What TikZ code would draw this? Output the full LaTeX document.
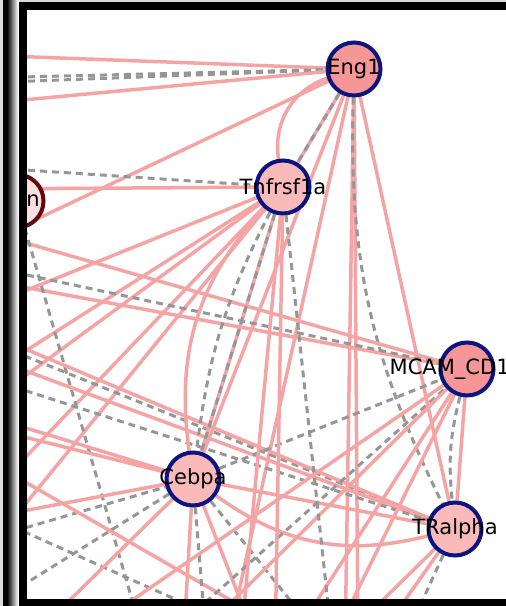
\documentclass[tikz,border=0pt]{standalone}
\usepackage{fontspec}
\setmainfont{DejaVu Sans}
\definecolor{pinkE}{RGB}{244,164,164}
\definecolor{grayD}{RGB}{150,150,150}
\definecolor{navyB}{RGB}{12,20,128}
\definecolor{fillDark}{RGB}{247,150,150}
\definecolor{fillLight}{RGB}{250,186,186}
\definecolor{fillN}{RGB}{251,222,222}
\definecolor{maroonB}{RGB}{100,10,10}
\pgfdeclarelayer{edgelayer}
\pgfsetlayers{edgelayer,main}
\begin{document}
\begin{tikzpicture}[x=1pt,y=-1pt,
  pk/.style={draw=pinkE, line width=3.5pt},
  dsh/.style={draw=grayD, line width=3pt, dash pattern=on 7pt off 5pt},
  gnode/.style={circle, draw=navyB, line width=4pt, minimum size=53pt, inner sep=0pt},
  lbl/.style={font=\fontsize{21}{21}\selectfont, text=black, inner sep=0pt}]
\useasboundingbox (0,0) rectangle (506,606);
% nodes
\begin{scope}
\clip (27,10) rectangle (506,599);
\node[gnode, fill=fillDark, label={[lbl]center:Eng1}] (E) at (354,69) {};
\node[gnode, fill=fillLight, label={[lbl]center:Tnfrsf1a}] (T) at (283,187) {};
\node[circle, draw=maroonB, line width=4pt, minimum size=53pt, inner sep=0pt, fill=fillN] (N) at (17,201) {};
\node[lbl] (Nl) at (33,201) {n};
\node[gnode, fill=fillDark, label={[lbl,xshift=-4pt]center:MCAM\_CD146}] (M) at (467,369) {};
\node[gnode, fill=fillLight, label={[lbl]center:Cebpa}] (C) at (193,479) {};
\node[gnode, fill=fillLight, label={[lbl]center:TRalpha}] (R) at (455,529) {};
\end{scope}
% off-canvas ends
\coordinate (a1) at (-20,55);
\coordinate (a2) at (-20,83);
\coordinate (a3) at (-20,78);
\coordinate (a4) at (-20,104);
\coordinate (a5) at (-20,246);
\coordinate (a9) at (226,650);
\coordinate (b10) at (345,650);
\coordinate (b11) at (358,650);
\coordinate (a14) at (-20,167);
\coordinate (a15) at (-20,189);
\coordinate (a16) at (-20,309);
\coordinate (a17) at (-20,380);
\coordinate (a18) at (-20,409);
\coordinate (a19) at (-20,505);
\coordinate (a20) at (-20,560);
\coordinate (a21) at (-20,230);
\coordinate (a22) at (-20,279);
\coordinate (a23) at (-20,265);
\coordinate (b24) at (135,610);
\coordinate (a25) at (-20,338);
\coordinate (a26) at (-20,330);
\coordinate (a26b) at (-20,354);
\coordinate (a26c) at (-20,376);
\coordinate (a27) at (-20,414);
\coordinate (a28) at (-20,426);
\coordinate (a29) at (-20,519);
\coordinate (a30) at (-20,541);
\coordinate (a31) at (-20,612);
\coordinate (a60) at (-20,456);
\coordinate (b60) at (300,640);
\coordinate (a61) at (-20,512);
\coordinate (b61) at (289,650);
\coordinate (b62) at (19,650);
\coordinate (b32) at (183,650);
\coordinate (b33) at (207,650);
\coordinate (b34) at (260,650);
\coordinate (b35) at (330,650);
\coordinate (b39) at (152,650);
\coordinate (b40) at (183,650);
\coordinate (b41) at (285,650);
\coordinate (b42) at (328,650);
\coordinate (b45) at (332,650);
\coordinate (b45b) at (370,650);
\coordinate (b46) at (400,650);
\coordinate (b51) at (333,650);
\coordinate (b52) at (240,650);
\coordinate (b53) at (275,650);
\coordinate (b54) at (60,650);
\begin{pgfonlayer}{edgelayer}
\begin{scope}
\clip (27,10) rectangle (506,599);
\draw[pk] (a1) -- (E);
\draw[dsh] (a2) -- (E);
\draw[dsh] (a3) -- (E);
\draw[pk] (a4) -- (E);
\draw[pk] (E) -- (a5);
\draw[pk] (E) -- (T);
\draw[pk] (E) to[bend right=40] (T);
\draw[dsh] (E) -- (T);
\draw[pk] (E) -- (a9);
\draw[pk] (E) -- (b10);
\draw[pk] (E) -- (b11);
\draw[dsh] (E) to[bend right=14] (R);
\draw[pk] (E) -- (R);
\draw[pk] (E) -- (C);
\draw[dsh] (a14) -- (T);
\draw[pk] (a15) -- (T);
\draw[pk] (T) -- (a16);
\draw[pk] (T) -- (a17);
\draw[pk] (T) -- (a18);
\draw[pk] (T) -- (a19);
\draw[pk] (T) -- (a20);
\draw[pk] (a21) -- (M);
\draw[pk] (a22) -- (M);
\draw[dsh] (a23) -- (M);
\draw[dsh] (N) -- (b24);
\draw[dsh] (a25) -- (R);
\draw[pk] (a26) -- (R);
\draw[pk] (a26b) -- (R);
\draw[dsh] (a26c) -- (R);
\draw[pk] (a27) -- (C);
\draw[pk] (a28) -- (C);
\draw[pk] (a29) -- (C);
\draw[dsh] (a30) -- (C);
\draw[dsh] (a31) -- (C);
\draw[pk] (a60) -- (b60);
\draw[dsh] (a61) -- (b61);
\draw[pk] (C) -- (b62);
\draw[pk] (C) -- (b32);
\draw[dsh] (C) -- (b33);
\draw[pk] (C) -- (b34);
\draw[dsh] (C) -- (b35);
\draw[pk] (C) -- (R);
\draw[pk] (C) to[bend right=25] (R);
\draw[dsh] (C) -- (M);
\draw[dsh] (b39) -- (M);
\draw[pk] (b40) -- (M);
\draw[pk] (M) -- (b41);
\draw[pk] (M) -- (b42);
\draw[pk] (M) -- (R);
\draw[dsh] (M) to[bend right=10] (R);
\draw[pk] (R) -- (b45);
\draw[pk] (R) -- (b45b);
\draw[dsh] (R) -- (b46);
\draw[pk] (T) -- (C);
\draw[pk] (T) to[bend right=25] (C);
\draw[dsh] (T) -- (C);
\draw[dsh] (T) to[bend right=10] (C);
\draw[dsh] (T) -- (b51);
\draw[pk] (T) -- (b52);
\draw[pk] (T) -- (b53);
\draw[pk] (b54) -- (M);
\end{scope}
\end{pgfonlayer}
% frame
\fill[black!15] (0,0) rectangle (3,606);
\fill[black] (3,0) rectangle (7,606);
\shade[left color=black, right color=white] (7,0) rectangle (18,606);
\fill[black!15] (19,0) rectangle (506,2);
\fill[black] (19,2) rectangle (506,10);
\fill[black] (19,2) rectangle (27,606);
\fill[black] (19,599) rectangle (506,606);
\end{tikzpicture}
\end{document}
